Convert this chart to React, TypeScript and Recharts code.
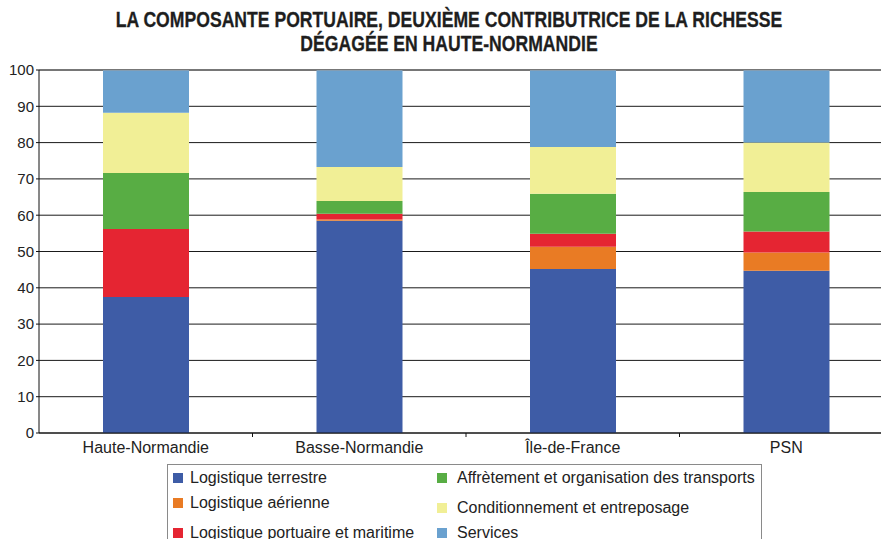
import React from 'react';
import { BarChart, Bar, XAxis, YAxis, CartesianGrid, ReferenceLine } from 'recharts';

const categories = ['Haute-Normandie', 'Basse-Normandie', 'Île-de-France', 'PSN'];

// parts of value added, in %
const terrestre = [37.5, 58.5, 45.2, 44.7];
const aerienne = [0, 0.3, 6.1, 5.0];
const portuaire = [18.7, 1.6, 3.6, 5.8];
const affretement = [15.4, 3.5, 11.0, 10.9];
const conditionnement = [16.6, 9.4, 12.9, 13.6];
const services = [11.8, 26.7, 21.2, 20.0];

const seriesKeys = ['terrestre', 'aerienne', 'portuaire', 'affretement', 'conditionnement', 'services'];
const seriesNames = [
  'Logistique terrestre',
  'Logistique aérienne',
  'Logistique portuaire et maritime',
  'Affrètement et organisation des transports',
  'Conditionnement et entreposage',
  'Services'
];
const seriesColors = ['#3e5ca6', '#e97b24', '#e52532', '#58ad44', '#f1ef96', '#6aa1cf'];
const seriesValues = [terrestre, aerienne, portuaire, affretement, conditionnement, services];

const yTicks = [0, 10, 20, 30, 40, 50, 60, 70, 80, 90, 100];

const data = categories.map((name, i) => {
  const row: Record<string, string | number> = { name };
  seriesKeys.forEach((k, s) => {
    row[k] = seriesValues[s][i];
  });
  return row;
});

const CHART_W = 893;
const Y_AXIS_W = 39;
const BAND = (CHART_W - Y_AXIS_W) / categories.length;
const X_TICK_SIZE = 4;
const X_TICK_MARGIN = 5;

// legend placement: column 1 = first three series, column 2 = last three
const legendRowsY = [[478, 503, 533], [478, 508, 533]];
const legendSquareX = [173, 437];
const legendTextX = [190, 457];

function CategoryTick(props: any) {
  const { x, y, payload } = props;
  const axisY = y - X_TICK_SIZE - X_TICK_MARGIN;
  return (
    <g>
      <text x={x} y={y} dy="0.71em" textAnchor="middle" fill="#222" fontSize={16}>
        {payload.value}
      </text>
      <line x1={x + BAND / 2} x2={x + BAND / 2} y1={axisY} y2={axisY + X_TICK_SIZE} stroke="#111" />
    </g>
  );
}

const titleLine: React.CSSProperties = {
  display: 'block',
  width: 898,
  textAlign: 'center',
  transform: 'scaleX(0.8)',
  transformOrigin: '449px 0'
};

export default function App() {
  return (
    <div
      style={{
        position: 'fixed',
        left: 0,
        top: 0,
        width: 881,
        height: 539,
        overflow: 'hidden',
        background: '#fff',
        fontFamily: '"Liberation Sans", Arial, sans-serif'
      }}
    >
      <div
        style={{
          position: 'absolute',
          top: 8,
          left: 0,
          width: 898,
          fontFamily: '"Liberation Sans", Arial, sans-serif',
          fontWeight: 'bold',
          fontSize: 22,
          lineHeight: '24px',
          color: '#1e1e1e',
          WebkitTextStroke: '0.3px #1e1e1e'
        }}
      >
        <span style={titleLine}>LA COMPOSANTE PORTUAIRE, DEUXIÈME CONTRIBUTRICE DE LA RICHESSE</span>
        <span style={titleLine}>DÉGAGÉE EN HAUTE-NORMANDIE</span>
      </div>

      <div style={{ position: 'absolute', left: 0, top: 0 }}>
        <BarChart width={CHART_W} height={539} data={data} margin={{ top: 70, right: 0, bottom: 76, left: 0 }}>
          <CartesianGrid vertical={false} stroke="#1a1a1a" strokeWidth={1} />
          <XAxis
            dataKey="name"
            height={30}
            axisLine={{ stroke: '#111' }}
            tickLine={false}
            tickSize={X_TICK_SIZE}
            tickMargin={X_TICK_MARGIN}
            tick={<CategoryTick />}
            interval={0}
          />
          <YAxis
            width={Y_AXIS_W}
            domain={[0, 100]}
            ticks={yTicks}
            interval={0}
            axisLine={{ stroke: '#111' }}
            tickLine={{ stroke: '#111' }}
            tickSize={3}
            tickMargin={2}
            tick={{ fill: '#222', fontSize: 15 }}
          />
          {seriesKeys.map((k, s) => (
            <Bar key={k} dataKey={k} name={seriesNames[s]} stackId="a" fill={seriesColors[s]} barSize={86} isAnimationActive={false} />
          ))}
          <ReferenceLine y={100} stroke="#9a9a9a" />
        </BarChart>
      </div>

      <div
        style={{
          position: 'absolute',
          left: 167,
          top: 464,
          width: 595,
          height: 100,
          border: '1px solid #8a8a8a',
          boxSizing: 'border-box'
        }}
      />
      {seriesNames.map((name, s) => {
        const col = s < 3 ? 0 : 1;
        const cy = legendRowsY[col][s % 3];
        return (
          <React.Fragment key={name}>
            <div
              style={{
                position: 'absolute',
                left: legendSquareX[col],
                top: cy - 5,
                width: 10,
                height: 10,
                background: seriesColors[s]
              }}
            />
            <div
              style={{
                position: 'absolute',
                left: legendTextX[col],
                top: cy - 9,
                fontSize: 16,
                lineHeight: '18px',
                color: '#222',
                whiteSpace: 'nowrap'
              }}
            >
              {name}
            </div>
          </React.Fragment>
        );
      })}
    </div>
  );
}
